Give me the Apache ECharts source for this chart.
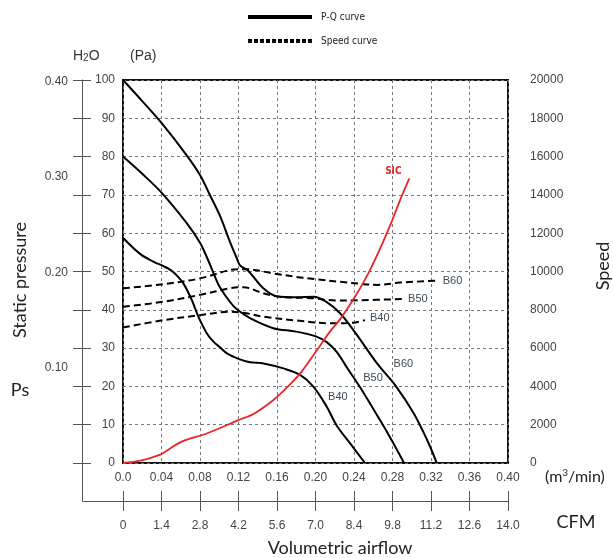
<!DOCTYPE html>
<html>
<head>
<meta charset="utf-8">
<script src="https://cdn.jsdelivr.net/npm/echarts@6/dist/echarts.min.js"></script>
<style>
html,body{margin:0;padding:0;background:#fff;}
#chart{width:613px;height:558px;}
</style>
</head>
<body>
<div id="chart"></div>
<script>
// ---- data (x = m3/min, PQ y = Pa, speed y = rpm) ----
const flowTicks = [0, 0.04, 0.08, 0.12, 0.16, 0.20, 0.24, 0.28, 0.32, 0.36, 0.40];
const cfmTicks = ['0', '1.4', '2.8', '4.2', '5.6', '7.0', '8.4', '9.8', '11.2', '12.6', '14.0'];
const h2oTicks = ['0.10', '0.20', '0.30', '0.40'];

const pqB60 = [[0,100],[0.020,94.5],[0.040,88.8],[0.066,80.4],[0.080,75.2],[0.0904,69.9],[0.1008,64.5],[0.111,57.8],[0.118,53.6],[0.1216,51.6],[0.130,50.2],[0.1458,45.6],[0.160,43.5],[0.180,43.3],[0.198,43.4],[0.2117,42.0],[0.2255,39.1],[0.242,33.8],[0.264,26],[0.284,19.9],[0.302,13],[0.316,6],[0.326,0]];
const pqB50 = [[0,80],[0.020,75.5],[0.040,70.6],[0.066,62.7],[0.080,57.5],[0.0887,52.8],[0.0956,48.6],[0.1008,45.8],[0.111,42.1],[0.118,40.2],[0.132,37.8],[0.156,35.2],[0.180,34.3],[0.201,33],[0.212,31.5],[0.222,29],[0.234,24.4],[0.246,19.9],[0.267,11.2],[0.279,6],[0.292,0]];
const pqB40 = [[0,58.8],[0.0177,54.6],[0.0315,52.6],[0.042,51.4],[0.0488,50.5],[0.055,49.2],[0.0627,46.9],[0.0714,42.6],[0.0783,38.2],[0.087,33.9],[0.094,31.7],[0.1008,30.2],[0.108,28.6],[0.120,27.2],[0.132,26.3],[0.146,26],[0.1666,24.7],[0.184,23],[0.198,19.9],[0.2117,14.7],[0.222,9.8],[0.236,5.1],[0.2514,0]];

const spB60 = [[0,9120],[0.042,9340],[0.080,9640],[0.111,10080],[0.120,10120],[0.128,10120],[0.156,9900],[0.180,9720],[0.201,9600],[0.2255,9460],[0.246,9360],[0.2636,9300],[0.288,9420],[0.326,9520]];
const spB50 = [[0,8160],[0.042,8420],[0.080,8780],[0.111,9120],[0.125,9180],[0.146,8860],[0.163,8680],[0.198,8600],[0.222,8480],[0.246,8500],[0.291,8560]];
const spB40 = [[0,7080],[0.042,7460],[0.080,7720],[0.111,7900],[0.128,7820],[0.146,7640],[0.180,7440],[0.215,7300],[0.239,7330],[0.2514,7460]];

const sic = [[0,0],[0.018,0.6],[0.038,2.1],[0.049,3.8],[0.061,5.6],[0.087,7.7],[0.120,11.2],[0.1355,12.8],[0.156,16.4],[0.1715,20],[0.186,24],[0.203,30],[0.215,34.3],[0.2255,37.5],[0.239,42.6],[0.253,48.6],[0.265,54.8],[0.277,61.7],[0.288,68.7],[0.2975,74.3]];

const PA_PER_INH2O = 249.089;

// ---- chart ----
const chart = echarts.init(document.getElementById('chart'), null, {renderer:'canvas'});
const tickFont = 'Liberation Sans, Arial, sans-serif';
const titleFont = 'Lato, "Open Sans", sans-serif';
const narrowFont = '"Liberation Sans Narrow", "DejaVu Sans Condensed", sans-serif';
const labColor = '#3d4a55';

function tagPoint(coord, text, label) {
  return {
    silent: true, animation: false,
    data: [{coord: coord, symbol: 'circle', symbolSize: 1, itemStyle: {color: 'rgba(0,0,0,0)'},
      label: Object.assign({show: true, formatter: text, color: labColor, fontSize: 11, fontFamily: tickFont}, label)}]
  };
}

const dotPath = 'path://' + Array.from({length: 11}, (_, i) => `M${i*6},0h4v4h-4z`).join('');

function pqSeries(data, markPoint) {
  return {name: 'P-Q curve', type: 'line', xAxisIndex: 0, yAxisIndex: 0, smooth: 0.35, symbol: 'none',
    lineStyle: {color: '#000', width: 2}, itemStyle: {color: '#000'}, data: data, markPoint: markPoint};
}
function spSeries(data, name, endLab) {
  return {name: 'Speed curve', type: 'line', xAxisIndex: 0, yAxisIndex: 1, smooth: 0.35, symbol: 'none',
    lineStyle: {color: '#000', width: 2, type: [7,4]}, itemStyle: {color: '#000'},
    endLabel: Object.assign({show: true, formatter: name, distance: 5, color: labColor, fontSize: 11, fontFamily: tickFont}, endLab),
    data: data};
}

const option = {
  animation: false,
  backgroundColor: '#fff',
  grid: [
    {left: 123, top: 80, width: 385, height: 383, show: true, borderColor: '#111', borderWidth: 2, backgroundColor: 'transparent'}
  ],
  legend: {
    orient: 'vertical', left: 243, top: 7, itemWidth: 64, itemHeight: 4, itemGap: 14,
    textStyle: {fontSize: 10, color: '#222', fontFamily: narrowFont, padding: [0,0,0,4]},
    data: [
      {name: 'P-Q curve', icon: 'path://M0,0h64v4h-64z', itemStyle: {color: '#000'}},
      {name: 'Speed curve', icon: dotPath, itemStyle: {color: '#000'}}
    ],
    selectedMode: false
  },
  xAxis: [
    {gridIndex: 0, type: 'value', min: flowTicks[0], max: flowTicks[flowTicks.length-1], interval: 0.04,
     axisLine: {show: false, onZero: false}, axisTick: {show: false},
     axisLabel: {margin: 9, color: '#444', fontSize: 12, fontFamily: tickFont,
       formatter: v => { const i = Math.round(v / 0.04); return i === 0 ? '0.0' : flowTicks[i].toFixed(2); }},
     splitLine: {show: true, lineStyle: {color: '#777', type: [3,3], width: 1}}},
    {gridIndex: 0, type: 'value', position: 'bottom', offset: 38, min: 0, max: 14, interval: 1.4,
     axisLine: {show: true, onZero: false, lineStyle: {color: '#555', width: 1}},
     axisTick: {show: true, length: 10, lineStyle: {color: '#555', width: 1}},
     axisLabel: {margin: 19, color: '#444', fontSize: 12, fontFamily: tickFont,
       formatter: v => { const i = Math.round(v / 1.4); return cfmTicks[i] || ''; }},
     splitLine: {show: false}},
    {gridIndex: 0, type: 'value', position: 'bottom', offset: 38, min: 0, max: 14, interval: 1.4,
     axisLine: {show: false, onZero: false}, axisTick: {show: true, inside: true, length: 10, lineStyle: {color: '#555', width: 1}},
     axisLabel: {show: false}, splitLine: {show: false}}
  ],
  yAxis: [
    {gridIndex: 0, type: 'value', min: 0, max: 100, interval: 10, position: 'left',
     axisLine: {show: false, onZero: false}, axisTick: {show: false},
     axisLabel: {margin: 8, color: '#444', fontSize: 12, fontFamily: tickFont},
     splitLine: {show: true, lineStyle: {color: '#777', type: [3,3], width: 1}}},
    {gridIndex: 0, type: 'value', min: 0, max: 20000, interval: 2000, position: 'right',
     axisLine: {show: false, onZero: false}, axisTick: {show: false},
     axisLabel: {margin: 22, color: '#444', fontSize: 12, fontFamily: tickFont, formatter: v => String(v)},
     splitLine: {show: false}},
    {gridIndex: 0, type: 'value', min: 0, max: 100 / PA_PER_INH2O, interval: 0.1, position: 'left', offset: 41,
     axisLine: {show: false, onZero: false}, axisTick: {show: false},
     axisLabel: {margin: 14, color: '#444', fontSize: 12, fontFamily: tickFont, showMaxLabel: false,
       formatter: v => { const i = Math.round(v * 10); return Math.abs(v * 10 - i) < 1e-6 && i > 0 ? h2oTicks[i-1] : ''; }},
     splitLine: {show: false}},
    {gridIndex: 0, type: 'value', min: 0, max: 100, interval: 10, position: 'left', offset: 41,
     axisLine: {show: true, onZero: false, lineStyle: {color: '#555', width: 1}},
     axisTick: {show: true, length: 9, lineStyle: {color: '#555'}},
     axisLabel: {show: false}, splitLine: {show: false}},
    {gridIndex: 0, type: 'value', min: 0, max: 100, interval: 10, position: 'left', offset: 41,
     axisLine: {show: false, onZero: false}, axisTick: {show: true, inside: true, length: 9, lineStyle: {color: '#555'}},
     axisLabel: {show: false}, splitLine: {show: false}}
  ],
  series: [
    pqSeries(pqB60, tagPoint(pqB60[18], 'B60', {position: 'right', distance: 16, offset: [0, 1]})),
    pqSeries(pqB50, tagPoint(pqB50[17], 'B50', {position: 'right', distance: 3, offset: [0, -9]})),
    pqSeries(pqB40, tagPoint(pqB40[18], 'B40', {position: 'right', distance: 14, offset: [0, 10]})),
    spSeries(spB60, 'B60', {distance: 6}),
    spSeries(spB50, 'B50', {}),
    spSeries(spB40, 'B40', {offset: [0, -2]}),
    {name: 'SIC', type: 'line', xAxisIndex: 0, yAxisIndex: 0, smooth: 0.3, symbol: 'none',
     lineStyle: {color: '#e8262a', width: 1.8}, itemStyle: {color: '#e8262a'},
     markPoint: tagPoint(sic[sic.length-1], 'SIC', {position: 'top', distance: 4, offset: [-16, 2], color: '#e8262a', fontSize: 10, fontWeight: 'bold', fontFamily: narrowFont}),
     data: sic}
  ],
  graphic: [
    // extensions of the H2O and CFM axis lines outside the plot
    {type: 'polyline', silent: true, shape: {points: [[82.5, 463], [82.5, 501.5], [123, 501.5]]}, style: {stroke: '#555', lineWidth: 1, fill: null}},
    {type: 'text', left: 73, top: 49, style: {text: '{a|H}{s|2}{a|O}', rich: {a: {fontSize: 14, fontFamily: tickFont, fill: '#333'}, s: {fontSize: 10, fontFamily: tickFont, fill: '#333', padding: [4,0,0,0]}}}},
    {type: 'text', left: 130, top: 49, style: {text: '(Pa)', fontSize: 14, fontFamily: tickFont, fill: '#333'}},
    {type: 'text', x: 20, y: 280, rotation: Math.PI / 2, style: {text: 'Static pressure', fontSize: 18, fontFamily: titleFont, fill: '#222', align: 'center', verticalAlign: 'middle'}},
    {type: 'text', x: 20, y: 390, style: {text: 'Ps', fontSize: 18, fontFamily: titleFont, fill: '#222', align: 'center', verticalAlign: 'middle'}},
    {type: 'text', x: 603, y: 266, rotation: Math.PI / 2, style: {text: 'Speed', fontSize: 18, fontFamily: titleFont, fill: '#222', align: 'center', verticalAlign: 'middle'}},
    {type: 'text', x: 545, y: 477, style: {rich: {a: {fontSize: 16, fontFamily: titleFont, fill: '#222'}, s: {fontSize: 10, fontFamily: titleFont, fill: '#222', padding:[0,0,8,0]}}, text: '{a|(m}{s|3}{a|/min)}', align: 'left', verticalAlign: 'middle'}},
    {type: 'text', x: 576, y: 522, style: {text: 'CFM', fontSize: 18, fontFamily: titleFont, fill: '#222', align: 'center', verticalAlign: 'middle'}},
    {type: 'text', x: 340, y: 548, style: {text: 'Volumetric airflow', fontSize: 18, fontFamily: titleFont, fill: '#222', align: 'center', verticalAlign: 'middle'}}
  ]
};
chart.setOption(option);
</script>
</body>
</html>
